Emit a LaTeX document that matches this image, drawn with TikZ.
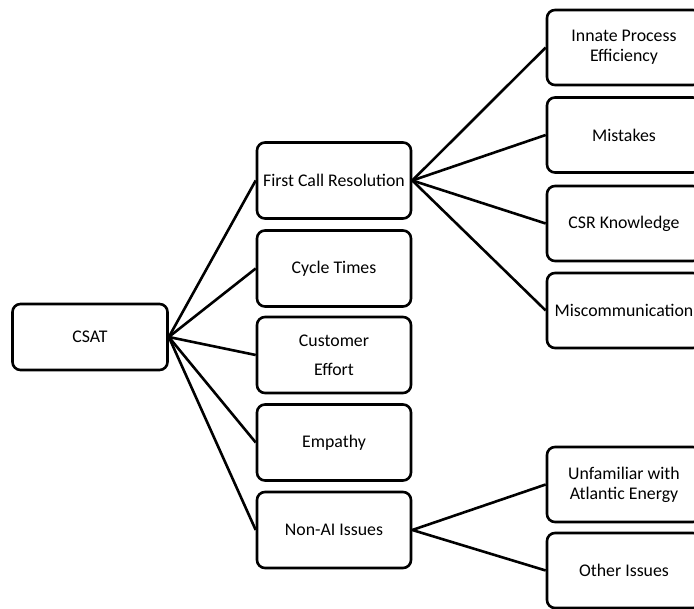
\documentclass[tikz,border=0pt]{standalone}
\usepackage{fontspec}
\setmainfont{Carlito}
\begin{document}
\begin{tikzpicture}[x=1pt,y=-1pt,
  box/.style={draw=black, line width=2.6pt, rounded corners=8pt, fill=white,
    inner sep=0pt, align=center, font=\fontsize{17.8}{20}\selectfont},
  rootbox/.style={box, minimum width=155pt, minimum height=66pt},
  midbox/.style={box, minimum width=154pt, minimum height=76pt},
  leafbox/.style={box, minimum width=154pt, minimum height=75pt},
  link/.style={draw=black, line width=2.6pt}]
  \useasboundingbox (0,0) rectangle (694,609);
  \clip (0,0) rectangle (694,609);

  % root
  \node[rootbox] (csat) at (90,337) {CSAT};

  % second level
  \node[midbox] (fcr)   at (334,180.5) {First Call Resolution};
  \node[midbox] (cycle) at (334,268.5) {Cycle Times};
  \node[midbox] (effort) at (334,355) {Customer\\[9pt]Effort};
  \node[midbox] (empathy) at (334,442.5) {Empathy};
  \node[midbox] (nonai) at (334,530) {Non-AI Issues};

  % third level
  \node[leafbox] (innate) at (624,47.5) {Innate Process\\Efficiency};
  \node[leafbox] (mistakes) at (624,135) {Mistakes};
  \node[leafbox] (csr) at (624,223.5) {CSR Knowledge};
  \node[leafbox] (miscomm) at (624,310.5) {Miscommunication};
  \node[leafbox] (unfam) at (624,484.5) {Unfamiliar with\\Atlantic Energy};
  \node[leafbox] (other) at (624,570.5) {Other Issues};

  % connectors
  \foreach \t in {fcr,cycle,effort,empathy,nonai}
    \draw[link] (csat.east) -- (\t.west);
  \foreach \t in {innate,mistakes,csr,miscomm}
    \draw[link] (fcr.east) -- (\t.west);
  \foreach \t in {unfam,other}
    \draw[link] (nonai.east) -- (\t.west);
\end{tikzpicture}
\end{document}
